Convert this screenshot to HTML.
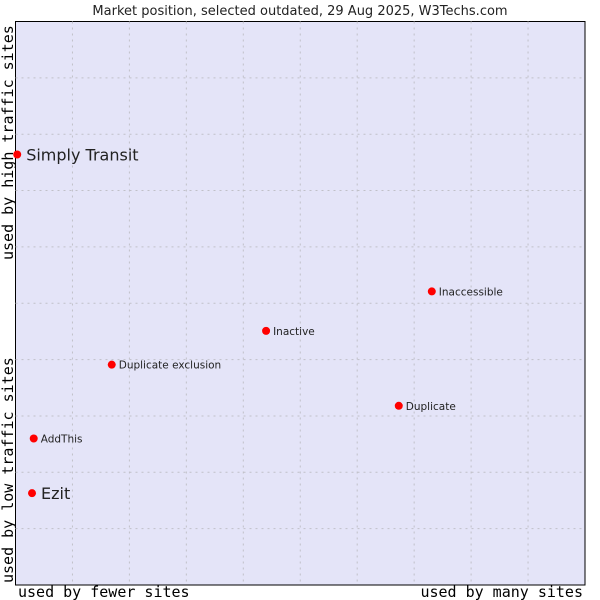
<!DOCTYPE html>
<html><head><meta charset="utf-8"><style>
body{margin:0;background:#fff;width:600px;height:600px;overflow:hidden}
svg{display:block}
</style></head><body>
<svg id="chart" width="600" height="600" xmlns="http://www.w3.org/2000/svg">
<text x="300" y="15" text-anchor="middle" font-family="DejaVu Sans, sans-serif" font-size="13" fill="#222">Market position, selected outdated, 29 Aug 2025, W3Techs.com</text>
<rect x="15.5" y="21.5" width="569.5" height="563.5" fill="#e4e4f8" stroke="#000" stroke-width="1"/>
<g id="grid"></g>
<g id="points"></g>
<text x="18" y="597" font-family="DejaVu Sans Mono, monospace" font-size="15" fill="#000">used by fewer sites</text>
<text x="583" y="597" text-anchor="end" font-family="DejaVu Sans Mono, monospace" font-size="15" fill="#000">used by many sites</text>
<text transform="translate(13,583) rotate(-90)" font-family="DejaVu Sans Mono, monospace" font-size="15" fill="#000">used by low traffic sites</text>
<text transform="translate(13,260) rotate(-90)" font-family="DejaVu Sans Mono, monospace" font-size="15" fill="#000">used by high traffic sites</text>
</svg>
<script>
const names = ["Simply Transit","Ezit","AddThis","Duplicate exclusion","Inactive","Duplicate","Inaccessible"];
const xValues = [0.3,2.9,3.2,16.9,44.0,67.3,73.1];
const yValues = [76.4,16.3,26.0,39.1,45.1,31.8,52.1];
const highlighted = [true,true,false,false,false,false,false];
const X0=15.5,X1=585,Y0=585,Y1=21.5;
const sx=v=>X0+(X1-X0)*v/100, sy=v=>Y0-(Y0-Y1)*v/100;
const NS="http://www.w3.org/2000/svg";
const grid=document.getElementById('grid');
for(let i=1;i<10;i++){
  const v=document.createElementNS(NS,'line');
  
  
  v.setAttribute('x1',sx(i*10));v.setAttribute('x2',sx(i*10));v.setAttribute('y1',Y1);v.setAttribute('y2',Y0);
  v.setAttribute('stroke','#c0c0c8');v.setAttribute('stroke-dasharray','2,4');grid.appendChild(v);
  const h=document.createElementNS(NS,'line');
  
  
  h.setAttribute('y1',sy(i*10));h.setAttribute('y2',sy(i*10));h.setAttribute('x1',X0);h.setAttribute('x2',X1);
  h.setAttribute('stroke','#c0c0c8');h.setAttribute('stroke-dasharray','2,4');grid.appendChild(h);
}
const pts=document.getElementById('points');
names.forEach((n,i)=>{
  const x=sx(xValues[i]),y=sy(yValues[i]);
  const c=document.createElementNS(NS,'circle');
  
  
  c.setAttribute('cx',x);c.setAttribute('cy',y);c.setAttribute('r',4);c.setAttribute('fill','#ff0000');
  pts.appendChild(c);
  const t=document.createElementNS(NS,'text');
  
  
  const big=highlighted[i];
  t.setAttribute('x',x+(big?9:7));t.setAttribute('y',y+(big?6:4));
  t.setAttribute('font-family','DejaVu Sans, sans-serif');
  t.setAttribute('font-size',big?16:10.5);t.setAttribute('fill','#222');
  t.textContent=n;pts.appendChild(t);
});
</script>
</body></html>
